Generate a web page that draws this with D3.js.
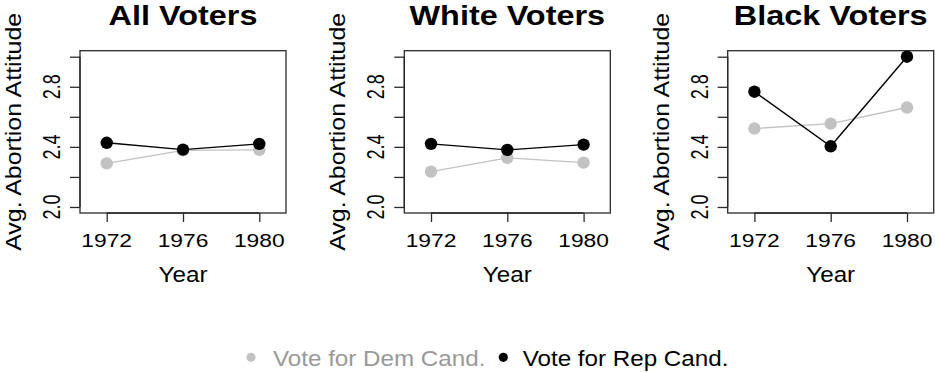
<!DOCTYPE html>
<html>
<head>
<meta charset="utf-8">
<script src="https://cdn.jsdelivr.net/npm/d3@7"></script>
<style>
  html, body { margin: 0; padding: 0; background: #fff; }
  svg { display: block; }
  text { font-family: "Liberation Sans", Arial, Helvetica, sans-serif; }
</style>
</head>
<body>
<svg id="chart" width="935" height="372"></svg>
<script>
// ---- data ----
const years = [1972, 1976, 1980];
const panelTitles = ["All Voters", "White Voters", "Black Voters"];
const demAll   = [2.29, 2.377, 2.38];
const repAll   = [2.427, 2.382, 2.42];
const demWhite = [2.235, 2.327, 2.295];
const repWhite = [2.42, 2.38, 2.415];
const demBlack = [2.522, 2.555, 2.662];
const repBlack = [2.767, 2.404, 3.0];
const yTicks = [2.0, 2.2, 2.4, 2.6, 2.8, 3.0];
const yTickLabels = ["2.0", "", "2.4", "", "2.8", ""];
const xTickLabels = ["1972", "1976", "1980"];
const seriesNames = ["Vote for Dem Cand.", "Vote for Rep Cand."];

const demSeries = [demAll, demWhite, demBlack];
const repSeries = [repAll, repWhite, repBlack];

// ---- layout ----
const svg = d3.select("#chart");
const boxLefts = [80, 404.3, 727.7];
const boxW = 206, boxTop = 50.7, boxBottom = 213;
const demColor = "#c2c2c2", repColor = "#000";
const frameColor = "#2a2a2a";

const y = d3.scaleLinear().domain([1.96, 3.04]).range([boxBottom, boxTop]);

function hText(g, x, yy, str, size, sx, opts = {}) {
  return g.append("text")
    .attr("transform", `translate(${x},${yy}) scale(${sx},1)`)
    .attr("text-anchor", opts.anchor || "middle")
    .attr("font-size", size)
    .attr("font-weight", opts.bold ? "bold" : "normal")
    .attr("fill", opts.fill || "#000")
    .text(str);
}
function vText(g, x, yy, str, size, sLen, sAcross) {
  return g.append("text")
    .attr("transform", `translate(${x},${yy}) rotate(-90) scale(${sLen},${sAcross})`)
    .attr("text-anchor", "middle")
    .attr("font-size", size)
    .attr("fill", "#000")
    .text(str);
}

panelTitles.forEach((title, i) => {
  const left = boxLefts[i];
  const x = d3.scaleLinear().domain([1970.6, 1981.4]).range([left, left + boxW]);
  const g = svg.append("g");
  const cx = left + boxW / 2;

  // title
  hText(g, cx, 24.5, title, 27, 1.2, { bold: true });

  // box
  g.append("rect").attr("x", left).attr("y", boxTop)
    .attr("width", boxW).attr("height", boxBottom - boxTop)
    .attr("fill", "none").attr("stroke", frameColor).attr("stroke-width", 1.3);

  // y axis
  const yAxis = d3.axisLeft(y).tickValues(yTicks).tickSize(10).tickFormat("");
  const ya = g.append("g").attr("transform", `translate(${left},0)`).call(yAxis);
  ya.select(".domain").attr("d", `M0,${y(2.0)}V${y(3.0)}`).attr("stroke", frameColor).attr("stroke-width", 1.3);
  ya.selectAll(".tick line").attr("stroke", frameColor).attr("stroke-width", 1.3);
  yTicks.forEach((t, k) => {
    if (!yTickLabels[k]) return;
    vText(g, left - 20, y(t), yTickLabels[k], 18, 1, 1.3);
  });

  // x axis
  const xAxis = d3.axisBottom(x).tickValues(years).tickSize(9).tickFormat("");
  const xa = g.append("g").attr("transform", `translate(0,${boxBottom})`).call(xAxis);
  xa.select(".domain").attr("d", `M${x(1972)},0H${x(1980)}`).attr("stroke", frameColor).attr("stroke-width", 1.3);
  xa.selectAll(".tick line").attr("stroke", frameColor).attr("stroke-width", 1.3);
  years.forEach((yr, k) => {
    hText(g, x(yr), 247, xTickLabels[k], 19, 1.2);
  });

  // axis titles
  hText(g, cx, 282.3, "Year", 22, 1.1);
  vText(g, left - 59, (boxTop + boxBottom) / 2, "Avg. Abortion Attitude", 23, 1.085, 1);

  // series
  const line = d3.line().x((d, k) => x(years[k])).y(d => y(d));
  [[demSeries[i], demColor], [repSeries[i], repColor]].forEach(([vals, col]) => {
    g.append("path").datum(vals).attr("d", line)
      .attr("fill", "none").attr("stroke", col).attr("stroke-width", 1.4);
    g.selectAll(null).data(vals).enter().append("circle")
      .attr("cx", (d, k) => x(years[k])).attr("cy", d => y(d))
      .attr("r", 6.2).attr("fill", col);
  });
});

// ---- legend ----
const leg = svg.append("g");
const legItems = [
  { name: seriesNames[0], dot: demColor, text: "#999999", dx: 251, tx: 273 },
  { name: seriesNames[1], dot: repColor, text: "#000000", dx: 503.3, tx: 522.7 }
];
legItems.forEach(it => {
  leg.append("circle").attr("cx", it.dx).attr("cy", 357.3).attr("r", 4.6).attr("fill", it.dot);
  hText(leg, it.tx, 365.7, it.name, 22, 1.1, { anchor: "start", fill: it.text });
});
</script>
</body>
</html>
